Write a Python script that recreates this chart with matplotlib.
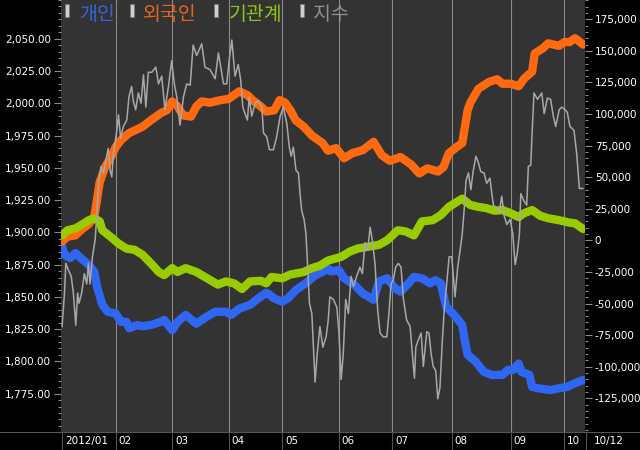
import matplotlib
matplotlib.use('Agg')
import matplotlib.pyplot as plt
from matplotlib import font_manager
from matplotlib.lines import Line2D
from matplotlib.patches import Rectangle
from matplotlib.ticker import FixedLocator, MultipleLocator, FuncFormatter

# trading-day index (0 = 2012/01/02, 194 = 2012/10/12)
MONTH_START = [0, 20, 41, 62, 82, 103, 123, 145, 167, 187]
MONTH_LABELS = ['2012/01', '02', '03', '04', '05', '06', '07', '08', '09', '10']
LAST_LABEL = '10/12'

SERIES_NAMES = ['개인', '외국인', '기관계', '지수']
SERIES_COLORS = ['#2f66f2', '#ff6a10', '#99cc00', '#a8a8a8']
LEGEND_COLORS = ['#3b63d8', '#e8641e', '#8fc21a', '#8f8f8f']

# cumulative net buying (right axis)
PERSONAL_DAY = [0, 1, 3, 5, 7, 10, 12, 13, 15, 17, 20, 22, 24, 25, 28, 30, 33, 36, 38, 41,
                43, 46, 50, 53, 57, 61, 63, 66, 70, 73, 76, 77, 79, 82, 84, 87, 91, 94, 97, 99,
                100, 103, 105, 109, 112, 116, 118, 121, 124, 126, 129, 131, 134, 137, 139, 141, 143, 146, 149, 150,
                151, 154, 157, 160, 164, 166, 168, 170, 171, 174, 175, 177, 182, 185, 188, 191, 194]
PERSONAL = [-5000, -11500, -14000, -10000, -14000, -19500, -25000, -36500, -51000, -56500,
            -58000, -64500, -64500, -69500, -67000, -68000, -67000, -65000, -63000, -71000,
            -64500, -59000, -66000, -61500, -56500, -56500, -59000, -54000, -51000, -46000,
            -41500, -42500, -46000, -48500, -46000, -39500, -33500, -28000, -25000, -22000,
            -24500, -23500, -30000, -35500, -42000, -47000, -32500, -30000, -38000, -40500,
            -34000, -29000, -30000, -34000, -31500, -34000, -52500, -59000, -67000, -80000,
            -90500, -96000, -104000, -106500, -106500, -102500, -102500, -97500, -104000, -106500,
            -116000, -117000, -118500, -117000, -116000, -113000, -110500]

FOREIGN_DAY = [0, 2, 5, 7, 10, 12, 13, 14, 16, 18, 20, 22, 25, 27, 30, 33, 37, 39, 41, 43,
               45, 48, 50, 52, 55, 59, 62, 64, 66, 69, 71, 74, 76, 79, 81, 83, 85, 87, 90, 93,
               97, 99, 102, 105, 108, 112, 116, 119, 122, 126, 130, 133, 136, 140, 142, 144, 147, 149, 151, 152,
               155, 159, 162, 164, 167, 170, 172, 175, 176, 179, 181, 185, 187, 189, 191, 194]
FOREIGN = [-1000, 3000, 4000, 8000, 13000, 19000, 32000, 46000, 58000, 65000,
           74000, 79500, 85000, 87000, 90000, 95000, 101000, 103000, 110000, 106000,
           99000, 98000, 106000, 110000, 109000, 111000, 112000, 115000, 118000, 115000,
           111000, 106000, 102000, 103000, 111000, 109000, 103000, 95000, 90000, 83000,
           77000, 71000, 73000, 65000, 69000, 71500, 78000, 67500, 63000, 66000,
           60000, 53000, 57000, 54500, 58000, 69000, 74000, 77000, 103000, 109000,
           120000, 125500, 127500, 124000, 124000, 122000, 128000, 133500, 148000, 152000,
           156000, 154000, 157000, 157000, 160000, 155000]

INST_DAY = [0, 2, 5, 7, 10, 12, 14, 15, 18, 21, 24, 27, 30, 33, 36, 38, 41, 43, 46, 50,
            52, 54, 58, 61, 64, 67, 70, 74, 76, 78, 82, 85, 90, 93, 96, 99, 104, 107, 110, 114,
            118, 121, 125, 128, 131, 134, 138, 141, 144, 147, 149, 152, 155, 158, 161, 164, 167, 170, 172, 175,
            178, 181, 185, 189, 191, 194]
INST = [4000, 8000, 9500, 12000, 16000, 17500, 15000, 8000, 3000, -2500,
        -6500, -7500, -11500, -18000, -25000, -27500, -22000, -25000, -22000, -25000,
        -27500, -30000, -35000, -32500, -34000, -38500, -32500, -32000, -34000, -29000,
        -30000, -27000, -25000, -22000, -20000, -16000, -13000, -9000, -6500, -5000,
        -3500, 0, 8000, 7000, 4000, 15000, 16000, 20000, 26500, 30500,
        33000, 28000, 26500, 25500, 23500, 24000, 21500, 18500, 21500, 24000,
        19500, 17500, 16000, 14000, 13500, 9000]

# KOSPI index (left axis)
INDEX_DAY = [0, 0.9, 1.4, 2.3, 3.4, 4.2, 5.1, 5.8, 6.3, 7.3, 8.3, 9.2, 9.8, 10.4, 11.3, 12.3, 12.9, 13.5, 14.5, 15.4,
             16.6, 17.2, 17.9, 18.5, 19.1, 20.4, 21, 21.8, 22.8, 24.1, 24.9, 25.9, 26.5, 27.4, 28.4, 29.4, 30.3, 31.2, 32.1, 33.4,
             34.9, 35.9, 37.1, 38.3, 39.6, 40.8, 41.8, 42.7, 43.9, 45.2, 46.4, 47.7, 48.8, 50.1, 52, 53.2, 55.1, 57, 58.2, 59.5,
             60.1, 61.3, 62.3, 63.2, 64.4, 65.6, 66.5, 67.3, 68.1, 69, 69.7, 70.6, 71.9, 73.1, 74.4, 75, 76.2, 77.2, 78.7, 79.9,
             81.2, 82.4, 83.7, 84.6, 85.3, 86.1, 87.1, 88, 88.6, 89.2, 90.1, 90.8, 91.3, 92.1, 93, 94.2, 95, 96, 97.1, 98.3,
             99.1, 99.7, 101, 102.3, 103.1, 103.9, 104.7, 105.6, 106.6, 107.6, 108.5, 109.7, 110.9, 111.8, 112.8, 113.8, 114.7, 115.5, 116.5, 117.5,
             118.4, 119.6, 120.9, 121.7, 122.5, 123.3, 124.2, 125.2, 126.2, 127.1, 128.3, 129.6, 130.4, 131.2, 131.7, 132.7, 133.7, 134.5, 135.8, 136.6,
             137.4, 138.2, 139.1, 139.9, 140.7, 141.6, 142.3, 143.2, 144.1, 145.1, 146.3, 147.3, 148.2, 149, 149.8, 150.4, 151.3, 152.2, 153.1, 154.1,
             155, 155.9, 157.1, 158.1, 159.3, 160, 160.6, 161.8, 162.8, 163.7, 164.6, 165.6, 166.8, 167.8, 168.7, 169.5, 170.3, 170.8, 171.8, 173,
             173.6, 174.5, 174.9, 175.7, 177, 178.6, 179.5, 180.7, 181.9, 182.9, 183.8, 185.1, 186, 187.3, 188.1, 189.1, 190.6, 191.6, 192.6, 193.9]
INDEX = [1827, 1853, 1876, 1871, 1866, 1853, 1828, 1853, 1845, 1853, 1868, 1860, 1876, 1860, 1881, 1894, 1912, 1935, 1951, 1946,
         1959, 1965, 1948, 1943, 1961, 1979, 1991, 1973, 1982, 1987, 2005, 2013, 2002, 1995, 2008, 2000, 2022, 1997, 2024, 2024,
         2028, 2015, 2021, 1995, 2013, 2033, 2015, 2005, 1983, 2005, 2015, 2014, 2045, 2037, 2046, 2028, 2026, 2019, 2039, 2023,
         2015, 2015, 2035, 2049, 2021, 2030, 2018, 1997, 1992, 1987, 2005, 1990, 2000, 2002, 1997, 1977, 1974, 1964, 1964, 1974,
         1990, 1997, 1984, 1966, 1959, 1966, 1948, 1946, 1930, 1917, 1910, 1899, 1879, 1845, 1837, 1784, 1806, 1827, 1811, 1819,
         1832, 1850, 1848, 1842, 1822, 1786, 1806, 1848, 1837, 1866, 1858, 1866, 1873, 1868, 1892, 1886, 1904, 1894, 1876, 1840,
         1822, 1819, 1819, 1837, 1860, 1863, 1873, 1876, 1873, 1848, 1832, 1827, 1806, 1787, 1811, 1817, 1822, 1796, 1823, 1822,
         1806, 1796, 1793, 1771, 1780, 1817, 1840, 1860, 1881, 1881, 1850, 1873, 1886, 1899, 1920, 1940, 1946, 1933, 1948, 1959,
         1954, 1947, 1946, 1938, 1942, 1930, 1921, 1919, 1916, 1928, 1913, 1906, 1910, 1899, 1875, 1884, 1899, 1930, 1925, 1921,
         1951, 1952, 1972, 2008, 2003, 2008, 1992, 2004, 2003, 1990, 1982, 1995, 1997, 1995, 1993, 1982, 1979, 1961, 1934, 1934]

W, H = 640, 450
KR_FONT = ['Noto Sans CJK KR', 'DejaVu Sans']
installed = {f.name for f in font_manager.fontManager.ttflist}
NUM_FONT = 'Liberation Sans Narrow' if 'Liberation Sans Narrow' in installed else 'DejaVu Sans'
NUM_SIZE = 9 if NUM_FONT == 'Liberation Sans Narrow' else 7.5


def plot(save_path):
    fig = plt.figure(figsize=(W / 100, H / 100), dpi=100, facecolor='black')
    left, right, top, bottom = 61, 585, 0, 432
    ax = fig.add_axes([left / W, (H - bottom) / H, (right - left) / W, (bottom - top) / H])
    ax.set_facecolor('#333333')
    ax2 = ax.twinx()

    # flows on the lower layer, right axis
    ax.plot(PERSONAL_DAY, PERSONAL, color=SERIES_COLORS[0], lw=6, solid_capstyle='round', zorder=3)
    ax.plot(FOREIGN_DAY, FOREIGN, color=SERIES_COLORS[1], lw=6, solid_capstyle='round', zorder=3)
    ax.plot(INST_DAY, INST, color=SERIES_COLORS[2], lw=6, solid_capstyle='round', zorder=4)
    ax.set_ylim(-151680, 190280)
    ax.yaxis.set_ticks_position('right')
    ax.yaxis.set_major_locator(FixedLocator(range(-125000, 175001, 25000)))
    ax.yaxis.set_minor_locator(MultipleLocator(5000))
    ax.yaxis.set_major_formatter(FuncFormatter(lambda v, p: f'{v:,.0f}'))

    # index on the top layer, left axis
    ax2.plot(INDEX_DAY, INDEX, color=SERIES_COLORS[3], lw=1.1, zorder=5)
    ax2.set_ylim(1745.3, 2080)
    ax2.yaxis.set_ticks_position('left')
    ax2.yaxis.set_major_locator(FixedLocator(range(1775, 2051, 25)))
    ax2.yaxis.set_minor_locator(MultipleLocator(5))
    ax2.yaxis.set_major_formatter(FuncFormatter(lambda v, p: f'{v:,.2f}'))

    for a in (ax, ax2):
        a.tick_params(axis='y', which='major', length=5, width=0.8, color='#8c8c8c',
                      labelcolor='white', labelsize=NUM_SIZE, pad=2)
        a.tick_params(axis='y', which='minor', length=2.5, width=0.8, color='#8c8c8c')
        for lab in a.get_yticklabels():
            lab.set_family(NUM_FONT)
        for s in a.spines.values():
            s.set_visible(False)

    ax.set_xlim(-0.4, 194.7)
    ax.set_xticks([])
    ax2.set_xticks([])

    strip = 18 / 432
    for d, lab in zip(MONTH_START, MONTH_LABELS):
        if d > 0:
            ax.axvline(d, color='#8a8a8a', lw=0.8, zorder=1)
        ax.axvline(d, ymin=-strip, ymax=0, color='#555555', lw=0.8, clip_on=False)
        ax.annotate(lab, (d, 0), xycoords=('data', 'axes fraction'), xytext=(2, -6.5),
                    textcoords='offset points', ha='left', va='center', color='white',
                    fontsize=NUM_SIZE, family=NUM_FONT)

    fig.add_artist(Line2D([0, 1], [(H - bottom) / H] * 2, color='#555555', lw=0.8))
    fig.add_artist(Line2D([586 / W] * 2, [0, (H - bottom) / H], color='#555555', lw=0.8))
    fig.text(609 / W, 9 / H, LAST_LABEL, color='white', fontsize=NUM_SIZE, ha='center', va='center',
             family=NUM_FONT)

    # legend row
    rect_x = [65, 130, 214, 300]
    text_x = [79, 143, 229, 313]
    for rx, tx, name, c in zip(rect_x, text_x, SERIES_NAMES, LEGEND_COLORS):
        fig.add_artist(Rectangle((rx / W, 1 - 17 / H), 4 / W, 13 / H, transform=fig.transFigure,
                                 facecolor='#cfcfcf', edgecolor='#777777', lw=0.5))
        fig.text(tx / W, 1 - 14 / H, name, color=c, fontsize=14, ha='left', va='center',
                 family=KR_FONT)

    plt.savefig(save_path, dpi=100, facecolor=fig.get_facecolor())


if __name__ == '__main__':
    plot('out.png')
